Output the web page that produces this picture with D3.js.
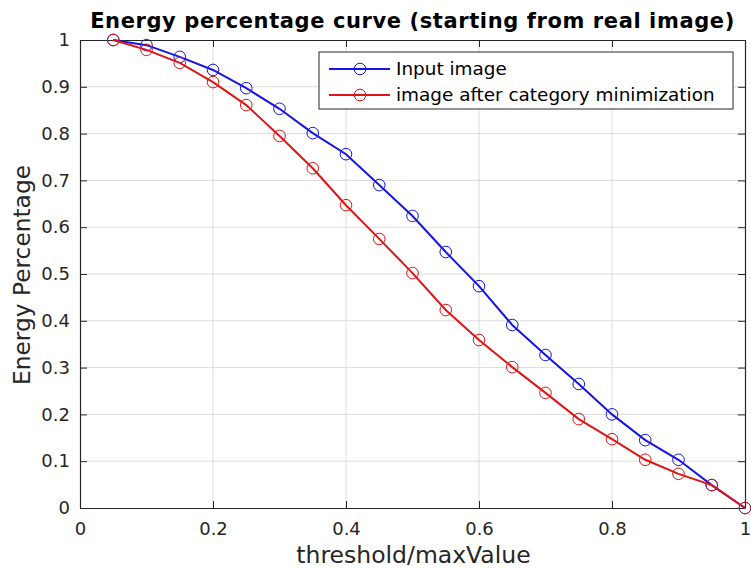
<!DOCTYPE html>
<html><head><meta charset="utf-8">
<script src="https://cdn.jsdelivr.net/npm/d3@7"></script>
<style>body{margin:0;background:#fff}</style>
</head><body>
<svg id="c" width="751" height="569"></svg>
<script>
const thresholds = [0.05,0.10,0.15,0.20,0.25,0.30,0.35,0.40,0.45,0.50,0.55,0.60,0.65,0.70,0.75,0.80,0.85,0.90,0.95,1.00];
const inputImage = [1.0,0.989,0.964,0.936,0.897,0.853,0.801,0.756,0.690,0.624,0.547,0.474,0.391,0.327,0.265,0.200,0.145,0.103,0.049,0.0];
const minimized  = [1.0,0.979,0.951,0.910,0.861,0.795,0.726,0.647,0.575,0.502,0.423,0.359,0.301,0.246,0.190,0.147,0.103,0.073,0.049,0.0];
const xTicks = [0,0.2,0.4,0.6,0.8,1];
const yTicks = [0,0.1,0.2,0.3,0.4,0.5,0.6,0.7,0.8,0.9,1];
const seriesNames = ["Input image","image after category minimization"];
const seriesColors = ["#1414e6","#e01414"];

const svg = d3.select("#c");
const L=80,R=745,T=40,B=508;
const x = d3.scaleLinear().domain([0,1]).range([L,R]);
const y = d3.scaleLinear().domain([0,1]).range([B,T]);
const font = "DejaVu Sans, sans-serif";
const axCol = "#262626";

// grid
svg.append("g").selectAll("line").data(xTicks.slice(1,-1)).join("line")
  .attr("x1",d=>x(d)).attr("x2",d=>x(d)).attr("y1",T).attr("y2",B)
  .attr("stroke","#dcdcdc").attr("stroke-width",1);
svg.append("g").selectAll("line").data(yTicks.slice(1,-1)).join("line")
  .attr("y1",d=>y(d)).attr("y2",d=>y(d)).attr("x1",L).attr("x2",R)
  .attr("stroke","#dcdcdc").attr("stroke-width",1);

// axes
const xa = svg.append("g").attr("transform",`translate(0,${B})`)
  .call(d3.axisBottom(x).tickValues(xTicks).tickFormat(d3.format("")).tickSizeInner(-7).tickSizeOuter(0).tickPadding(14));
const xt = svg.append("g").attr("transform",`translate(0,${T})`)
  .call(d3.axisTop(x).tickValues(xTicks).tickFormat("").tickSizeInner(-7).tickSizeOuter(0));
const ya = svg.append("g").attr("transform",`translate(${L},0)`)
  .call(d3.axisLeft(y).tickValues(yTicks).tickFormat(d3.format("")).tickSizeInner(-7).tickSizeOuter(0).tickPadding(10));
const yr = svg.append("g").attr("transform",`translate(${R},0)`)
  .call(d3.axisRight(y).tickValues(yTicks).tickFormat("").tickSizeInner(-7).tickSizeOuter(0));
[xa,xt,ya,yr].forEach(g=>{
  g.select(".domain").attr("stroke",axCol).attr("stroke-width",1.2);
  g.selectAll(".tick line").attr("stroke",axCol);
  g.selectAll("text").attr("fill",axCol).attr("font-family",font).attr("font-size",18);
});

// lines
const series = [inputImage, minimized];
const line = d3.line().x((d,i)=>x(thresholds[i])).y(d=>y(d));
series.forEach((s,k)=>{
  svg.append("path").datum(s).attr("d",line).attr("fill","none")
    .attr("stroke",seriesColors[k]).attr("stroke-width",2);
  svg.append("g").selectAll("circle").data(s).join("circle")
    .attr("cx",(d,i)=>x(thresholds[i])).attr("cy",d=>y(d)).attr("r",5.8)
    .attr("fill","none").attr("stroke",seriesColors[k]).attr("stroke-width",1);
});

// title & labels
svg.append("text").attr("x",(L+R)/2).attr("y",28).attr("text-anchor","middle")
  .attr("font-family",font).attr("font-weight","bold").attr("font-size",21).attr("letter-spacing",0.6).attr("fill","#000")
  .text("Energy percentage curve (starting from real image)");
svg.append("text").attr("x",(L+R)/2+1).attr("y",563).attr("text-anchor","middle")
  .attr("font-family",font).attr("font-size",23.5).attr("fill",axCol).text("threshold/maxValue");
svg.append("text").attr("transform",`translate(30,${(T+B)/2+1}) rotate(-90)`).attr("text-anchor","middle")
  .attr("font-family",font).attr("font-size",23.3).attr("fill",axCol).text("Energy Percentage");

// legend
const lg = svg.append("g");
lg.append("rect").attr("x",319).attr("y",52).attr("width",414).attr("height",57)
  .attr("fill","#fff").attr("stroke",axCol).attr("stroke-width",1);
seriesNames.forEach((n,k)=>{
  const yy = 69 + k*26;
  lg.append("line").attr("x1",329).attr("x2",390).attr("y1",yy).attr("y2",yy)
    .attr("stroke",seriesColors[k]).attr("stroke-width",2);
  lg.append("circle").attr("cx",360).attr("cy",yy).attr("r",5.8).attr("fill","none")
    .attr("stroke",seriesColors[k]).attr("stroke-width",1);
  lg.append("text").attr("x",396).attr("y",yy+6).attr("font-family",font).attr("font-size",18.4)
    .attr("fill","#000").text(n);
});
</script>
</body></html>
